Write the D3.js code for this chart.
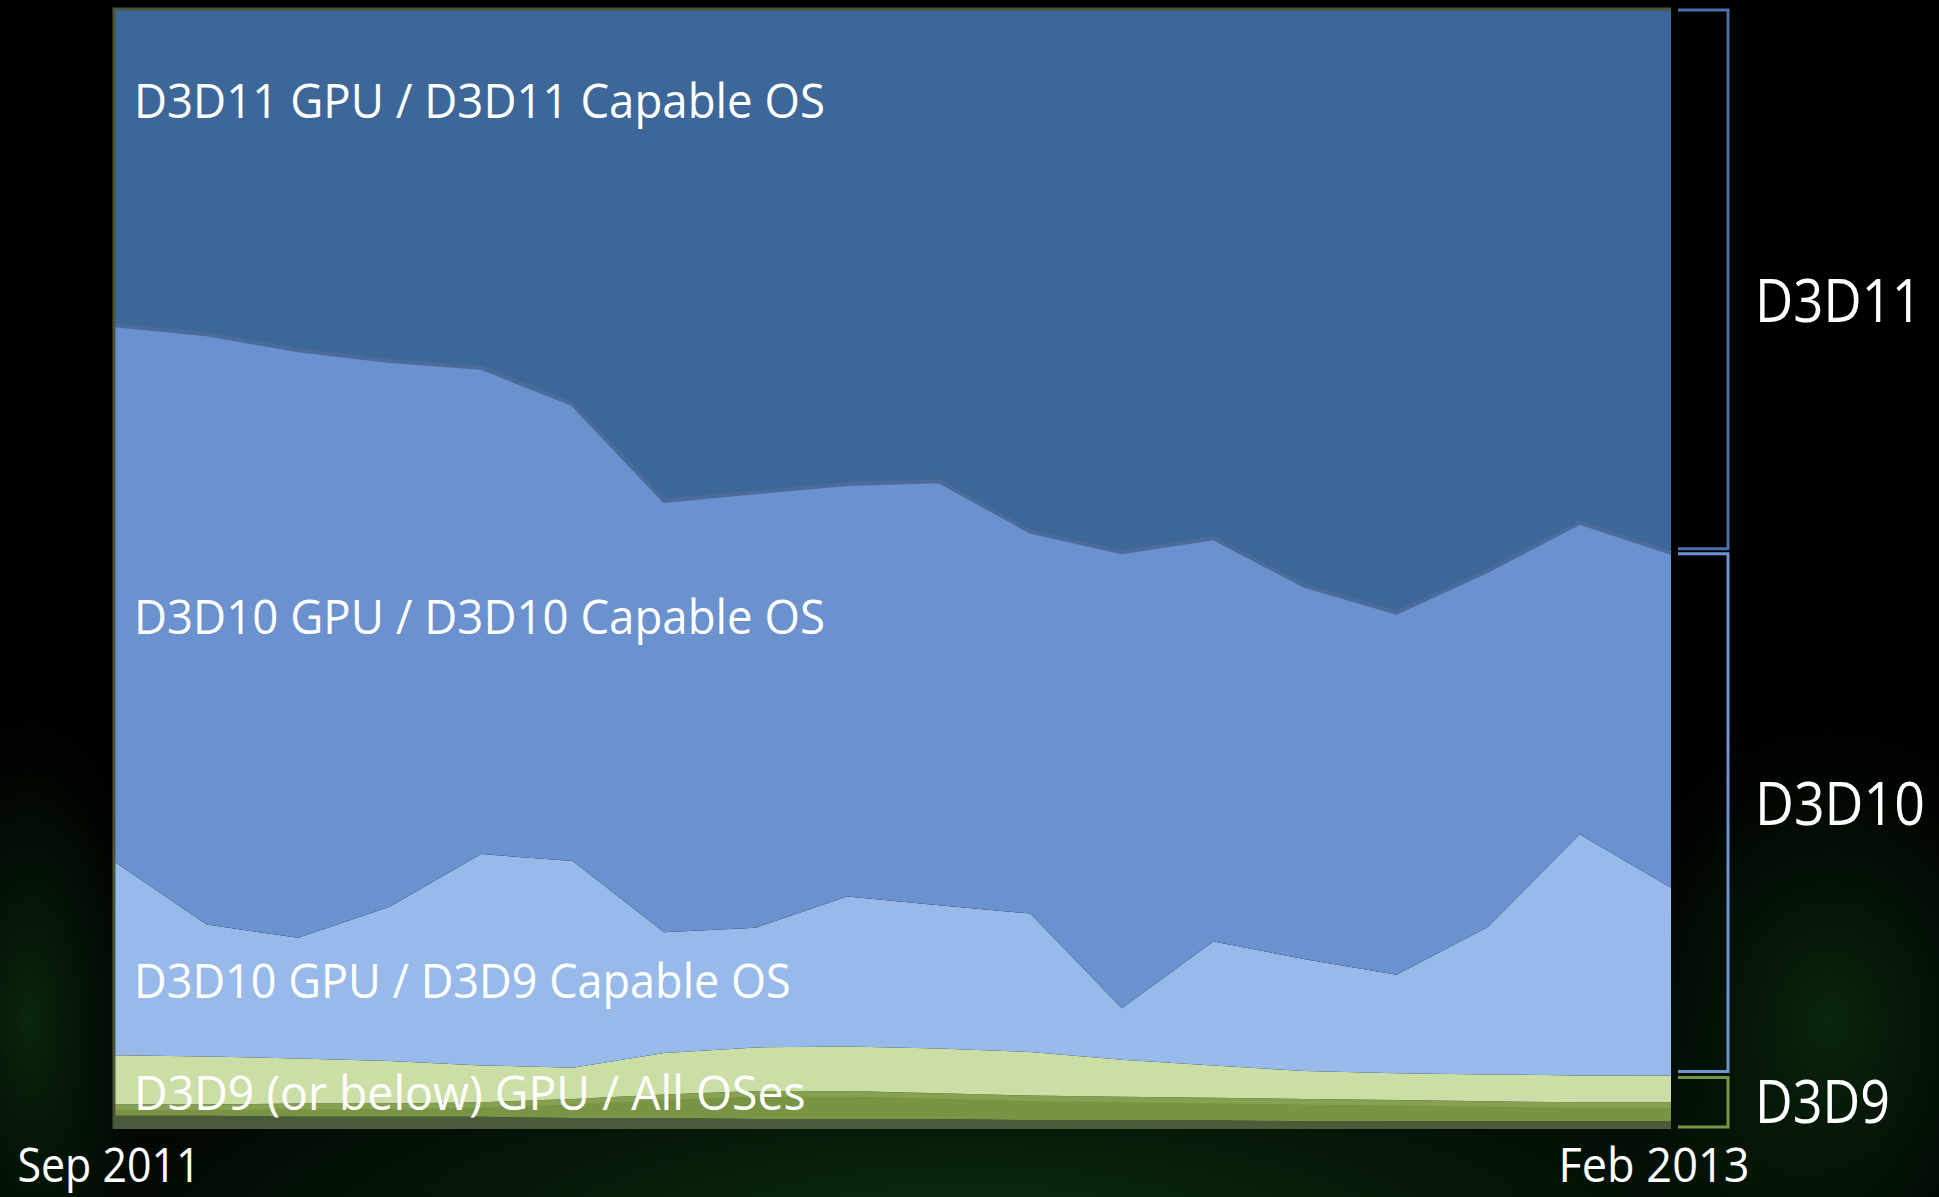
<!DOCTYPE html>
<html lang="en">
<head>
<meta charset="utf-8">
<title>D3D GPU / OS share</title>
<script src="https://d3js.org/d3.v7.min.js"></script>
<style>
body { margin: 0; background: #000; }
</style>
</head>
<body>
<script type="text/javascript">
var w = 1939;
var h = 1197;
var plotLeft = 115, plotRight = 1671, plotTop = 10, plotBottom = 1128;

// months Sep 2011 .. Feb 2013
var months = ["Sep 2011", "Oct 2011", "Nov 2011", "Dec 2011", "Jan 2012", "Feb 2012",
  "Mar 2012", "Apr 2012", "May 2012", "Jun 2012", "Jul 2012", "Aug 2012",
  "Sep 2012", "Oct 2012", "Nov 2012", "Dec 2012", "Jan 2013", "Feb 2013"];

// share in percent, bottom layer first
var d3d9Dark  = [1.1, 1.1, 1.0, 1.0, 1.0, 0.9, 0.9, 0.8, 0.8, 0.8, 0.7, 0.7, 0.7, 0.6, 0.6, 0.6, 0.6, 0.6];
var d3d9Olive = [1.0, 1.0, 1.2, 1.2, 1.3, 1.7, 2.1, 2.5, 2.5, 2.3, 2.2, 2.1, 2.0, 2.0, 1.9, 1.8, 1.7, 1.7];
var d3d9Light = [4.4, 4.3, 4.0, 3.8, 3.3, 2.8, 3.7, 3.9, 4.0, 4.0, 3.9, 3.3, 2.9, 2.5, 2.4, 2.4, 2.4, 2.4];
var d3d10Os9  = [17.3, 11.8, 10.8, 13.8, 18.9, 18.5, 10.8, 10.7, 13.4, 12.8, 12.4, 4.6, 11.1, 10.0, 8.8, 13.2, 21.6, 16.8];
var d3d10Os10 = [48.0, 52.8, 52.5, 48.8, 43.5, 40.9, 38.6, 38.9, 36.9, 37.9, 34.2, 40.8, 36.1, 33.4, 32.4, 31.9, 27.9, 30.0];
var d3d11     = [28.2, 29.0, 30.4, 31.4, 32.0, 35.3, 43.9, 43.1, 42.4, 42.1, 46.7, 48.5, 47.3, 51.5, 53.9, 50.2, 45.9, 48.6];

var keys = ["d3d9Dark", "d3d9Olive", "d3d9Light", "d3d10Os9", "d3d10Os10", "d3d11"];
var colors = ["#4b5a3a", "#7a9446", "#cbdea6", "#97baea", "#6b91ce", "#3e6799"];

var layerLabels = ["D3D11 GPU / D3D11 Capable OS", "D3D10 GPU / D3D10 Capable OS",
  "D3D10 GPU / D3D9 Capable OS", "D3D9 (or below) GPU / All OSes"];
var groupLabels = ["D3D11", "D3D10", "D3D9"];

var series = { d3d9Dark: d3d9Dark, d3d9Olive: d3d9Olive, d3d9Light: d3d9Light,
  d3d10Os9: d3d10Os9, d3d10Os10: d3d10Os10, d3d11: d3d11 };

var rows = months.map(function (m, i) {
  var r = { month: m };
  keys.forEach(function (k) { r[k] = series[k][i]; });
  return r;
});

var svg = d3.select("body").append("svg")
  .attr("width", w)
  .attr("height", h)
  .style("display", "block");

// background: black with a faint green glow low down
var defs = svg.append("defs");
var glow = defs.append("radialGradient").attr("id", "glow");
glow.append("stop").attr("offset", "0%").attr("stop-color", "#123f16").attr("stop-opacity", 0.75);
glow.append("stop").attr("offset", "60%").attr("stop-color", "#082a0c").attr("stop-opacity", 0.35);
glow.append("stop").attr("offset", "100%").attr("stop-color", "#000").attr("stop-opacity", 0);

svg.append("rect").attr("width", w).attr("height", h).attr("fill", "#000");
svg.append("ellipse").attr("cx", w / 2).attr("cy", h + 40).attr("rx", 1250).attr("ry", 330)
  .attr("fill", "url(#glow)");
svg.append("ellipse").attr("cx", 30).attr("cy", 1020).attr("rx", 140).attr("ry", 340)
  .attr("fill", "url(#glow)").attr("opacity", 0.8);
svg.append("ellipse").attr("cx", 1830).attr("cy", 1020).attr("rx", 260).attr("ry", 330)
  .attr("fill", "url(#glow)").attr("opacity", 0.8);

var xScale = d3.scalePoint().domain(months).range([plotLeft, plotRight]);
var yScale = d3.scaleLinear().domain([0, 1]).range([plotBottom, plotTop]);

var stacked = d3.stack().keys(keys).offset(d3.stackOffsetExpand)(rows);

var area = d3.area()
  .x(function (d) { return xScale(d.data.month); })
  .y0(function (d) { return yScale(d[0]); })
  .y1(function (d) { return yScale(d[1]); });

svg.selectAll("path.layer")
  .data(stacked)
  .enter()
  .append("path")
  .attr("class", "layer")
  .attr("d", area)
  .attr("fill", function (d, i) { return colors[i]; });

var topLine = d3.line()
  .x(function (d) { return xScale(d.data.month); })
  .y(function (d) { return yScale(d[1]); });

// lighter rim on the olive band
svg.append("path")
  .datum(stacked[1])
  .attr("d", topLine)
  .attr("transform", "translate(0,3)")
  .attr("fill", "none")
  .attr("stroke", "#86a152")
  .attr("stroke-width", 5);

// edge between D3D10 and D3D11
svg.append("path")
  .datum(stacked[4])
  .attr("d", topLine)
  .attr("fill", "none")
  .attr("stroke", "#4a6b9b")
  .attr("stroke-width", 4);

// frame on top, left, bottom
svg.append("path")
  .attr("d", "M" + plotRight + "," + (plotTop - 1) + "H" + (plotLeft - 1) + "V" + (plotBottom - 1) + "H" + plotRight)
  .attr("fill", "none")
  .attr("stroke", "#4a5636")
  .attr("stroke-width", 3);
svg.append("rect")
  .attr("x", plotLeft - 2).attr("y", plotBottom - 5)
  .attr("width", plotRight - plotLeft + 2).attr("height", 6)
  .attr("fill", "#4e5a3c");

var font = "'Open Sans', 'Noto Sans', sans-serif";

// squeeze a text horizontally to a target width, keeping its anchor point
function fitWidth(sel, widthFn) {
  sel.each(function (d, i) {
    var t = d3.select(this);
    var natural = this.getComputedTextLength();
    var k = widthFn(d, i) / natural;
    var x = +t.attr("x") || 0, y = +t.attr("y") || 0;
    t.attr("transform", (t.attr("transform") || "") +
      " translate(" + x + "," + y + ") scale(" + k + ",1) translate(" + (-x) + "," + (-y) + ")");
  });
}

// labels inside the areas
var innerY = [118, 634, 998, 1110];
var innerW = [691, 691, 657, 672];
svg.selectAll("text.inner")
  .data(layerLabels)
  .enter()
  .append("text")
  .attr("class", "inner")
  .attr("x", 134)
  .attr("y", function (d, i) { return innerY[i]; })
  .attr("font-family", font)
  .attr("font-size", "48px")
  .attr("fill", "#fff")
  .text(function (d) { return d; })
  .call(fitWidth, function (d, i) { return innerW[i]; });

// group brackets, built from the last month's stack
var last = months.length - 1;
var b1 = yScale(stacked[4][last][1]);
var b2 = yScale(stacked[2][last][1]);
var brackets = [
  { label: groupLabels[0], y0: plotTop, y1: b1 - 4, color: "#4a72aa", dy: 43 },
  { label: groupLabels[1], y0: b1 + 1, y1: b2 - 4, color: "#6d95d2", dy: 12 },
  { label: groupLabels[2], y0: b2 + 2, y1: plotBottom - 1, color: "#7a9446", dy: 21 }
];
var bx0 = plotRight + 7, bx1 = 1728;

svg.selectAll("path.bracket")
  .data(brackets)
  .enter()
  .append("path")
  .attr("class", "bracket")
  .attr("d", function (d) {
    return "M" + bx0 + "," + d.y0 + "H" + bx1 + "V" + d.y1 + "H" + bx0;
  })
  .attr("fill", "none")
  .attr("stroke", function (d) { return d.color; })
  .attr("stroke-width", 3);

var groupW = [167, 170, 135];
svg.selectAll("text.group")
  .data(brackets)
  .enter()
  .append("text")
  .attr("class", "group")
  .attr("x", 1755)
  .attr("y", function (d) { return (d.y0 + d.y1) / 2 + d.dy; })
  .attr("font-family", font)
  .attr("font-size", "61px")
  .attr("fill", "#fff")
  .text(function (d) { return d.label; })
  .call(fitWidth, function (d, i) { return groupW[i]; });

// x axis: first and last month only
var xAxis = d3.axisBottom(xScale)
  .tickValues([months[0], months[last]])
  .tickSize(0)
  .tickPadding(20);

var axisG = svg.append("g")
  .attr("transform", "translate(0," + plotBottom + ")")
  .call(xAxis);
axisG.select(".domain").remove();
axisG.selectAll("text")
  .attr("font-family", font)
  .attr("font-size", "48px")
  .attr("fill", "#fff")
  .attr("text-anchor", "start")
  .attr("x", function (d, i) { return i ? 1558 - plotRight : 17 - plotLeft; })
  .call(fitWidth, function (d, i) { return i ? 191 : 183; });
</script>
</body>
</html>
